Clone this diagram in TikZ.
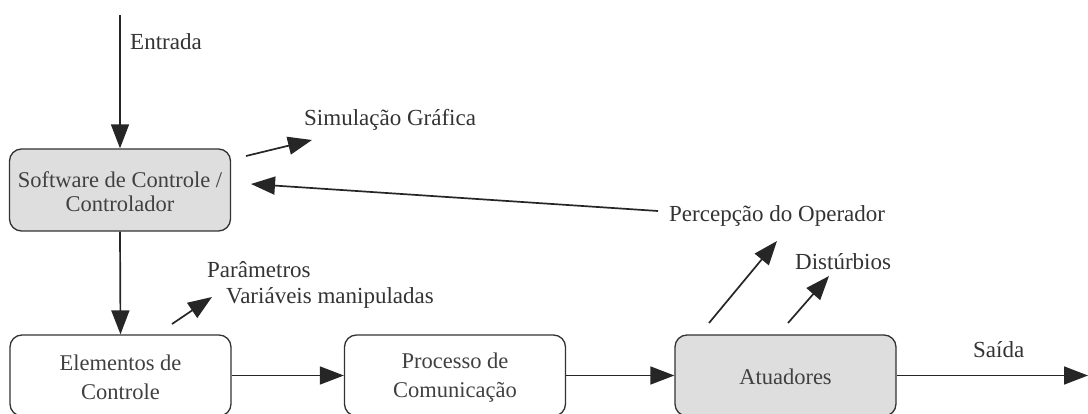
\documentclass[tikz,border=0pt]{standalone}
\usepackage{fontspec}
\setmainfont{Liberation Serif}
\usetikzlibrary{arrows.meta}
\begin{document}
\begin{tikzpicture}[x=1pt,y=-1pt,
  box/.style={draw=black!80, line width=1.3pt, rounded corners=12pt,
    minimum width=221pt, inner sep=0pt},
  greybox/.style={box, fill=black!13},
  boxtext/.style={align=center, inner sep=0pt, text=black!75},
  lbl/.style={anchor=west, inner sep=0pt, font=\fontsize{23}{26}\selectfont, text=black!80},
  conn/.style={draw=black!85, line width=1.7pt, -{Triangle[length=24pt,width=18pt]}}]
  \useasboundingbox (0,0) rectangle (1088,414);

  % blocks
  \node[greybox, minimum height=82pt] (soft) at (120,190) {};
  \node[box, minimum height=81pt] (elem) at (120.5,375.5) {};
  \node[box, minimum height=81pt] (proc) at (455,375.5) {};
  \node[greybox, minimum height=81pt] (atu) at (785.5,375.5) {};

  % block texts
  \node[boxtext, font=\fontsize{22.5}{24}\selectfont] (softT) at (120,192)
    {Software de Controle /\\ Controlador};
  \node[boxtext, font=\fontsize{22.5}{29}\selectfont] (elemT) at (120.5,377.5)
    {Elementos de\\ Controle};
  \node[boxtext, font=\fontsize{22.5}{29}\selectfont] (procT) at (455,377.5)
    {Processo de\\ Comunicação};
  \node[boxtext, font=\fontsize{22.5}{29}\selectfont] (atuT) at (785.5,377)
    {Atuadores};

  % labels
  \node[lbl] (entrada) at (130,42) {Entrada};
  \node[lbl] (sim) at (304,120) {Simulação Gráfica};
  \node[lbl] (perc) at (669,216) {Percepção do Operador};
  \node[lbl] (param) at (207,270) {Parâmetros};
  \node[lbl] (var) at (226,298) {Variáveis manipuladas};
  \node[lbl] (dist) at (795,262) {Distúrbios};
  \node[lbl] (saida) at (973,350) {Saída};

  % free ends of connectors
  \coordinate (in) at (120,15);
  \coordinate (simA) at (246,156);
  \coordinate (simB) at (312,140);
  \coordinate (percA) at (658,211);
  \coordinate (percB) at (251,184);
  \coordinate (parA) at (172,324);
  \coordinate (parB) at (212,297);
  \coordinate (opA) at (709,323);
  \coordinate (opB) at (777,241);
  \coordinate (dA) at (788,323);
  \coordinate (dB) at (829,276);
  \coordinate (out) at (1088,375.5);

  % connectors
  \draw[conn] (in) -- (soft.north);
  \draw[conn] (soft.south) -- (elem.north);
  \draw[conn] (elem.east) -- (proc.west);
  \draw[conn] (proc.east) -- (atu.west);
  \draw[conn] (atu.east) -- (out);
  \draw[conn] (simA) -- (simB);
  \draw[conn] (percA) -- (percB);
  \draw[conn] (parA) -- (parB);
  \draw[conn] (opA) -- (opB);
  \draw[conn] (dA) -- (dB);
\end{tikzpicture}
\end{document}
